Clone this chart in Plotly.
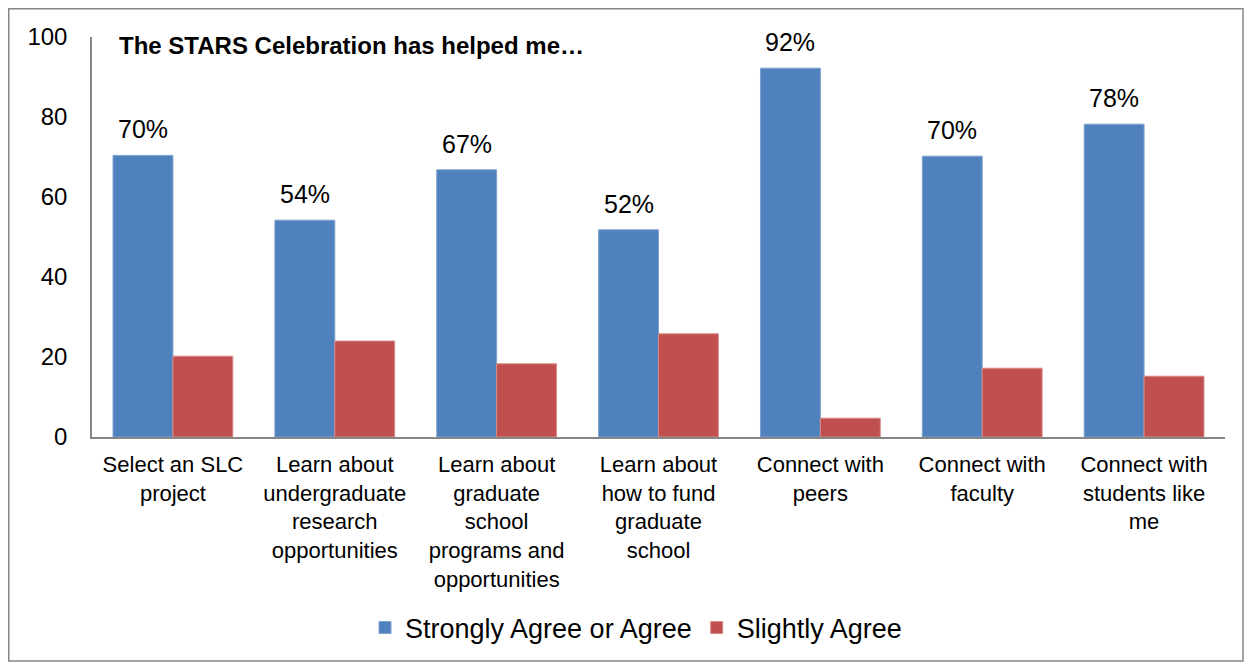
import plotly.graph_objects as go

categories = [
    "Select an SLC<br>project",
    "Learn about<br>undergraduate<br>research<br>opportunities",
    "Learn about<br>graduate<br>school<br>programs and<br>opportunities",
    "Learn about<br>how to fund<br>graduate<br>school",
    "Connect with<br>peers",
    "Connect with<br>faculty",
    "Connect with<br>students like<br>me",
]
strongly_agree = [70.4, 54.2, 66.8, 51.8, 92.2, 70.2, 78.2]
slightly_agree = [20.2, 24.0, 18.3, 25.8, 4.7, 17.2, 15.2]
strongly_labels = ["70%", "54%", "67%", "52%", "92%", "70%", "78%"]
y_ticks = [0, 20, 40, 60, 80, 100]

# page has an 8px body margin; work in page pixels and convert
OFF = 8
W, H = 1252 - OFF, 665 - OFF
PX_L, PX_R, PX_T, PX_B = 92, 1225, 37, 437   # plot area in page pixels
L, T = PX_L - OFF, PX_T - OFF
R = W - (PX_R - OFF)
B = H - (PX_B - OFF)
pw, ph = W - L - R, H - T - B


def px(xp):
    return (xp - PX_L) / pw


def py(yp):
    return (PX_B - yp) / ph


BLUE = "#4F81BD"
RED = "#C0504D"
FONT = "Liberation Sans, Arial, sans-serif"

fig = go.Figure()
fig.add_trace(go.Bar(name="Strongly Agree or Agree", x=categories, y=strongly_agree,
                     marker=dict(color=BLUE, line=dict(color="#7EA0CF", width=1))))
fig.add_trace(go.Bar(name="Slightly Agree", x=categories, y=slightly_agree,
                     marker=dict(color=RED, line=dict(color="#D98A88", width=1))))

for cat, v, lab in zip(categories, strongly_agree, strongly_labels):
    fig.add_annotation(x=cat, y=v, text=lab, showarrow=False, xref="x", yref="y",
                       xshift=-30, yshift=10, yanchor="bottom",
                       font=dict(family=FONT, size=25, color="#000000"))

fig.add_annotation(xref="paper", yref="paper", x=px(117), y=py(46),
                   text="<b>The STARS Celebration has helped me…</b>", showarrow=False,
                   xanchor="left", yanchor="middle",
                   font=dict(family=FONT, size=24, color="#000000"))

# outer chart border
fig.add_shape(type="rect", xref="paper", yref="paper",
              x0=px(OFF + 0.75), x1=px(1243), y0=py(661), y1=py(OFF + 0.75),
              line=dict(color="#868686", width=1.5), fillcolor="rgba(0,0,0,0)")

fig.update_layout(
    width=W, height=H,
    margin=dict(l=L, r=R, t=T, b=B),
    paper_bgcolor="white", plot_bgcolor="white",
    barmode="group", bargap=0.26, bargroupgap=0,
    font=dict(family=FONT, color="#000000"),
    showlegend=True,
    legend=dict(orientation="h", x=px(636), xanchor="center",
                y=py(628), yanchor="middle",
                font=dict(family=FONT, size=27), traceorder="normal"),
    xaxis=dict(showline=True, linecolor="#868686", linewidth=1.5, showgrid=False,
               ticks="", tickfont=dict(family=FONT, size=22), tickangle=0,
               ticklabelstandoff=7),
    yaxis=dict(range=[0, 100], tickvals=y_ticks, showline=True, linecolor="#868686",
               linewidth=1.5, showgrid=False, zeroline=False, ticks="",
               tickfont=dict(family=FONT, size=24), ticklabelstandoff=18),
)

fig.write_html("out.html")
